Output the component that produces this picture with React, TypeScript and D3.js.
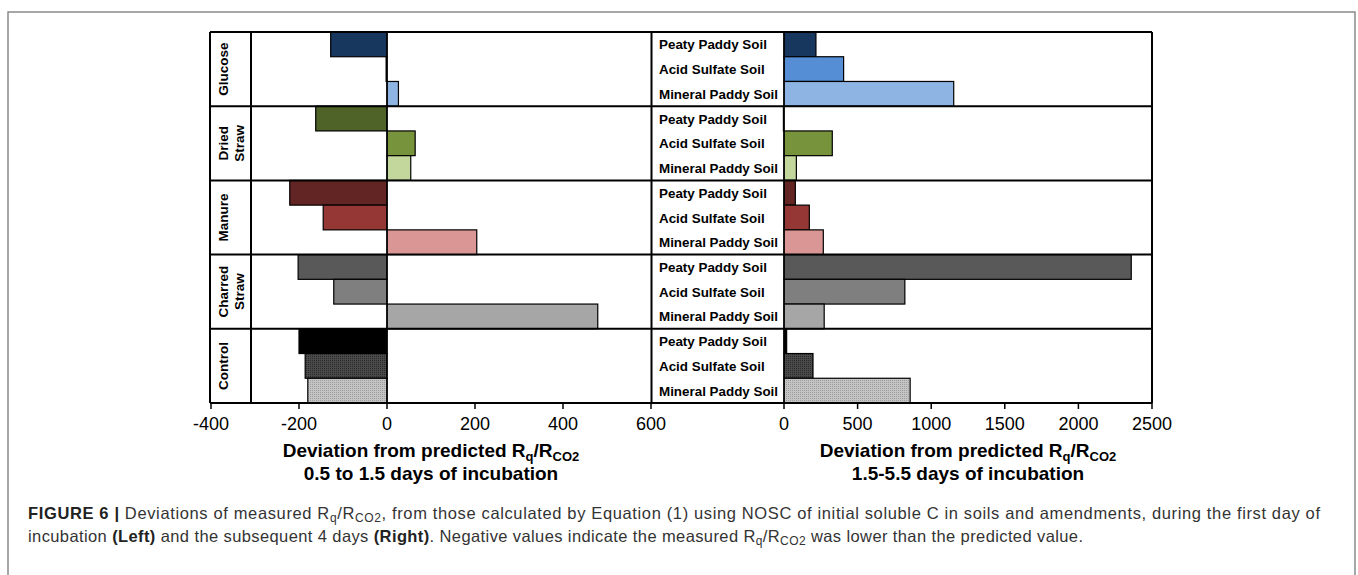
import * as d3 from "d3";

const amendments = ["Glucose", "Dried Straw", "Manure", "Charred Straw", "Control"];
const soils = ["Peaty Paddy Soil", "Acid Sulfate Soil", "Mineral Paddy Soil"];

// 0.5 to 1.5 days of incubation
const earlyPeaty = [-128, -162, -221, -202, -200];
const earlyAcid = [-2, 64, -145, -121, -186];
const earlyMineral = [26, 54, 204, 479, -180];

// 1.5-5.5 days of incubation
const latePeaty = [217, -4, 77, 2359, 18];
const lateAcid = [405, 328, 172, 821, 197];
const lateMineral = [1153, 84, 267, 273, 857];

const leftTicks = [-400, -200, 0, 200, 400, 600];
const rightTicks = [0, 500, 1000, 1500, 2000, 2500];

const fills = [
  ["#17375e", "#558ed5", "#8eb4e3"],
  ["#4f6228", "#77933c", "#c3d69b"],
  ["#632523", "#953735", "#d99694"],
  ["#595959", "#7f7f7f", "#a6a6a6"],
  ["#000000", "url(#dotsDark)", "url(#dotsLight)"],
];

const W = 1358;
const H = 575;
const top = 32;
const bottom = 403;
const font = "Arial, 'Liberation Sans', sans-serif";

const xLeft = d3.scaleLinear().domain([-400, 600]).range([211, 651]);
const xRight = d3.scaleLinear().domain([0, 2500]).range([784, 1152]);
const yGroup = d3.scaleBand<string>().domain(amendments).range([top, bottom]);
const ySoil = d3.scaleBand<string>().domain(soils).range([0, yGroup.bandwidth()]);

function Bars({ x, series }: { x: d3.ScaleLinear<number, number>; series: number[][] }) {
  return (
    <g>
      {amendments.map((a, gi) =>
        soils.map((s, si) => {
          const v = series[si][gi];
          const x0 = Math.min(x(0), x(v));
          const w = Math.max(Math.abs(x(v) - x(0)), 0.5);
          return (
            <rect
              key={a + s}
              x={x0}
              y={(yGroup(a) ?? 0) + (ySoil(s) ?? 0)}
              width={w}
              height={ySoil.bandwidth()}
              fill={fills[gi][si]}
              stroke="#000"
              strokeWidth={1.2}
            />
          );
        })
      )}
    </g>
  );
}

function Title({ cx, line2 }: { cx: number; line2: string }) {
  return (
    <g fontFamily={font} fontWeight="bold" fill="#000" textAnchor="middle">
      <text x={cx} y={457} fontSize={19}>
        Deviation from predicted R
        <tspan fontSize={13} dy={4}>q</tspan>
        <tspan dy={-4}>/R</tspan>
        <tspan fontSize={13} dy={4}>CO2</tspan>
      </text>
      <text x={cx} y={480} fontSize={19}>{line2}</text>
    </g>
  );
}

export default function App() {
  const bw = ySoil.bandwidth();
  return (
    <svg width={W} height={H} style={{ position: "absolute", left: 0, top: 0, background: "#fff" }}>
      <defs>
        <pattern id="dotsDark" width={2} height={2} patternUnits="userSpaceOnUse">
          <rect width={2} height={2} fill="#4a4a4a" />
          <rect width={1} height={1} fill="#2a2a2a" />
        </pattern>
        <pattern id="dotsLight" width={2} height={2} patternUnits="userSpaceOnUse">
          <rect width={2} height={2} fill="#c4c4c4" />
          <rect width={1} height={1} fill="#9e9e9e" />
        </pattern>
      </defs>

      {/* outer figure frame */}
      <path d={`M8,${H + 2}V12H1355V${H + 2}`} fill="none" stroke="#8a8a8a" strokeWidth={1.5} />

      {/* bars */}
      <Bars x={xLeft} series={[earlyPeaty, earlyAcid, earlyMineral]} />
      <Bars x={xRight} series={[latePeaty, lateAcid, lateMineral]} />

      {/* grid boxes */}
      <g stroke="#000" strokeWidth={2} fill="none">
        {amendments.map((a) => (
          <line key={a} x1={210} x2={1152} y1={yGroup(a)} y2={yGroup(a)} />
        ))}
        <line x1={210} x2={1152} y1={bottom} y2={bottom} />
        <line x1={210} x2={210} y1={top} y2={bottom} />
        <line x1={251} x2={251} y1={top} y2={bottom} />
        <line x1={651.5} x2={651.5} y1={top} y2={bottom} />
        <line x1={1152} x2={1152} y1={top} y2={bottom} />
        <line x1={xLeft(0)} x2={xLeft(0)} y1={top} y2={bottom} strokeWidth={1.5} />
        <line x1={xRight(0)} x2={xRight(0)} y1={top} y2={bottom} strokeWidth={1.5} />
      </g>

      {/* axes */}
      <g stroke="#000" strokeWidth={1.5}>
        {leftTicks.map((t) => (
          <line key={"l" + t} x1={xLeft(t)} x2={xLeft(t)} y1={bottom} y2={bottom + 6} />
        ))}
        {rightTicks.map((t) => (
          <line key={"r" + t} x1={xRight(t)} x2={xRight(t)} y1={bottom} y2={bottom + 6} />
        ))}
      </g>
      <g fontFamily={font} fontSize={18} textAnchor="middle" fill="#000">
        {leftTicks.map((t) => (
          <text key={"l" + t} x={xLeft(t)} y={430}>{t}</text>
        ))}
        {rightTicks.map((t) => (
          <text key={"r" + t} x={xRight(t)} y={430}>{t}</text>
        ))}
      </g>

      {/* amendment labels */}
      <g fontFamily={font} fontSize={13.5} fontWeight="bold" textAnchor="middle" fill="#000">
        {amendments.map((a) => {
          const cy = (yGroup(a) ?? 0) + yGroup.bandwidth() / 2;
          const words = a.split(" ");
          return (
            <g key={a} transform={`translate(223,${cy}) rotate(-90)`}>
              {words.map((w, i) => (
                <text key={w} x={0} y={5 + i * 16}>{w}</text>
              ))}
            </g>
          );
        })}
      </g>

      {/* soil labels */}
      <g fontFamily={font} fontSize={13.4} fontWeight="bold" fill="#000">
        {amendments.map((a) =>
          soils.map((s) => (
            <text key={a + s} x={659} y={(yGroup(a) ?? 0) + (ySoil(s) ?? 0) + bw / 2 + 5}>
              {s}
            </text>
          ))
        )}
      </g>

      <Title cx={431} line2="0.5 to 1.5 days of incubation" />
      <Title cx={968} line2="1.5-5.5 days of incubation" />

      {/* caption */}
      <g fontFamily="'Liberation Sans', Arial, sans-serif" fontSize={16.5} fill="#333">
        <text x={28} y={519} textLength={1292} lengthAdjust="spacing">
          <tspan fontWeight="bold" fill="#222">FIGURE 6 |</tspan> Deviations of measured R
          <tspan fontSize={12} dy={3}>q</tspan>
          <tspan dy={-3}>/R</tspan>
          <tspan fontSize={12} dy={3}>CO2</tspan>
          <tspan dy={-3}>, from those calculated by Equation (1) using NOSC of initial soluble C in soils and amendments, during the first day of</tspan>
        </text>
        <text x={28} y={542} textLength={1055} lengthAdjust="spacing">
          incubation <tspan fontWeight="bold" fill="#222">(Left)</tspan> and the subsequent 4 days{" "}
          <tspan fontWeight="bold" fill="#222">(Right)</tspan>. Negative values indicate the measured R
          <tspan fontSize={12} dy={3}>q</tspan>
          <tspan dy={-3}>/R</tspan>
          <tspan fontSize={12} dy={3}>CO2</tspan>
          <tspan dy={-3}> was lower than the predicted value.</tspan>
        </text>
      </g>
    </svg>
  );
}
